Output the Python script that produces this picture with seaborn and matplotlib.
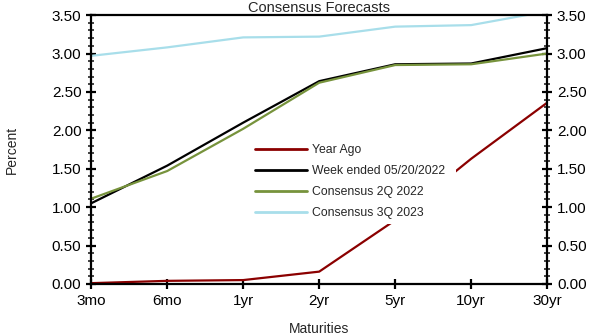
# 라이브러리
import pandas as pd
import matplotlib
matplotlib.use('Agg')
import matplotlib.pyplot as plt
import seaborn as sns
from matplotlib.ticker import MultipleLocator, FormatStrFormatter

# 데이터
maturities = ['3mo', '6mo', '1yr', '2yr', '5yr', '10yr', '30yr']
year_ago = [0.01, 0.04, 0.05, 0.16, 0.83, 1.63, 2.36]
week_ended = [1.05, 1.54, 2.10, 2.64, 2.86, 2.87, 3.07]
cons_2q22 = [1.11, 1.47, 2.02, 2.62, 2.85, 2.86, 3.00]
cons_3q23 = [2.97, 3.08, 3.21, 3.22, 3.35, 3.37, 3.55]
series_names = ['Year Ago', 'Week ended 05/20/2022', 'Consensus 2Q 2022', 'Consensus 3Q 2023']
colors = ['#8B0000', '#000000', '#77933C', '#A8DEEA']

rows = []
for name, vals in zip(series_names, [year_ago, week_ended, cons_2q22, cons_3q23]):
    for m, v in zip(maturities, vals):
        rows.append({'Maturities': m, 'Percent': v, 'series': name})
df = pd.DataFrame(rows)

sns.set_style('white')
plt.rcParams['font.family'] = ['Liberation Sans', 'DejaVu Sans']

fig = plt.figure(figsize=(6, 3.36), dpi=100)
ax = fig.add_axes([0.152, 0.155, 0.76, 0.80])

sns.lineplot(data=df, x='Maturities', y='Percent', hue='series', palette=colors,
             hue_order=series_names, sort=False, linewidth=1.6, ax=ax)

ax.set_xlim(0, len(maturities) - 1)
ax.set_ylim(0, 3.5)
ax.yaxis.set_major_locator(MultipleLocator(0.5))
ax.yaxis.set_minor_locator(MultipleLocator(0.1))
ax.yaxis.set_major_formatter(FormatStrFormatter('%.2f'))

for s in ax.spines.values():
    s.set_color('black')
    s.set_linewidth(1.6)

ax.tick_params(axis='both', which='major', direction='inout', length=7, width=1.6,
               labelsize=11, colors='black')
ax.tick_params(axis='y', which='minor', direction='inout', length=4, width=1.2, left=True, right=True)
ax.tick_params(axis='y', which='both', left=True, right=True, labelleft=True, labelright=True)
ax.tick_params(axis='x', which='major', bottom=True, pad=4)

ax.set_title('Consensus Forecasts', fontsize=10.5, pad=2)
ax.set_xlabel('Maturities', fontsize=10, labelpad=10)
ax.set_ylabel('Percent', fontsize=10, labelpad=24)

# 범례 (흰 배경, 테두리 없음)
leg = ax.legend(loc='upper left', bbox_to_anchor=(0.334, 0.562, 0.48, 0.0), mode='expand',
                fontsize=8.8, frameon=True, facecolor='white', edgecolor='none', framealpha=1,
                handlelength=4.3, handletextpad=0.4, labelspacing=0.75, borderpad=0.4)
for line in leg.get_lines():
    line.set_linewidth(2)

fig.savefig('out.png', dpi=100)
